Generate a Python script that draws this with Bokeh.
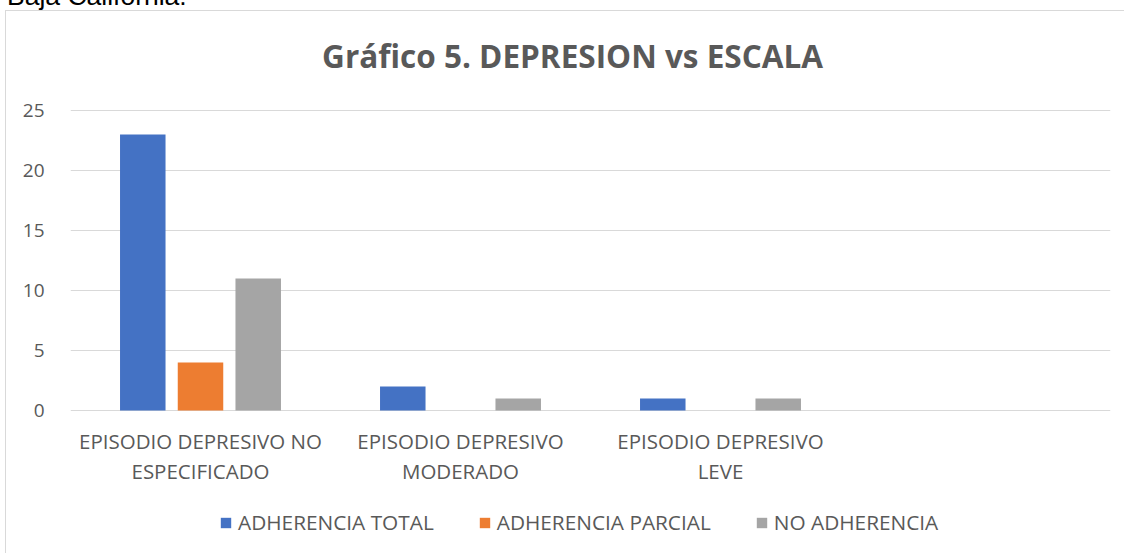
from bokeh.plotting import figure
from bokeh.layouts import column
from bokeh.models import (FactorRange, Range1d, FixedTicker, ColumnDataSource,
                          Legend, LegendItem, Label, Div)
from bokeh.core.properties import value
from bokeh.transform import dodge
from bokeh.embed import file_html
from bokeh.resources import INLINE

categories = ["EPISODIO DEPRESIVO NO\nESPECIFICADO", "EPISODIO DEPRESIVO\nMODERADO",
              "EPISODIO DEPRESIVO\nLEVE", " "]
series = ["ADHERENCIA TOTAL", "ADHERENCIA PARCIAL", "NO ADHERENCIA"]
adherencia_total = [23, 2, 1, 0]
adherencia_parcial = [4, 0, 0, 0]
no_adherencia = [11, 1, 1, 0]
y_ticks = [0, 5, 10, 15, 20, 25]
colors = ["#4472C4", "#ED7D31", "#A5A5A5"]
title_text = "Gráfico 5. DEPRESION vs ESCALA"
page_text = "Baja California."

FONT = "Open Sans"
TXT = "#595959"

src = ColumnDataSource(dict(cat=categories, total=adherencia_total,
                            parcial=adherencia_parcial, no=no_adherencia))

p = figure(x_range=FactorRange(*categories), y_range=Range1d(-12, 33.25),
           width=1119, height=543, output_backend="svg", toolbar_location=None,
           min_border_left=64, min_border_right=15, min_border_top=0,
           min_border_bottom=0)
p.styles = {"border-left": "1px solid #D9D9D9", "border-top": "1px solid #D9D9D9",
            "margin-left": "5px", "margin-top": "-10px"}
p.outline_line_color = None
p.background_fill_color = "white"
p.border_fill_color = "white"

r1 = p.vbar(x=dodge("cat", -0.222, range=p.x_range), top="total", width=0.175,
            source=src, color=colors[0], line_color=None)
r2 = p.vbar(x=dodge("cat", 0.0, range=p.x_range), top="parcial", width=0.175,
            source=src, color=colors[1], line_color=None)
r3 = p.vbar(x=dodge("cat", 0.222, range=p.x_range), top="no", width=0.175,
            source=src, color=colors[2], line_color=None)

# category labels under the zero line
p.text(x="cat", y=-1.35, text="cat", source=src, text_align="center",
       text_baseline="top", text_font=value(FONT), text_font_size="20.5px",
       text_color=TXT, text_line_height=1.08)

p.xaxis.visible = False
p.xgrid.grid_line_color = None
p.ygrid.grid_line_color = "#D9D9D9"
p.ygrid.ticker = FixedTicker(ticks=y_ticks)
p.yaxis.ticker = FixedTicker(ticks=y_ticks)

ax = p.yaxis[0]
ax.axis_line_color = None
ax.major_tick_line_color = None
ax.minor_tick_line_color = None
ax.major_label_text_font = FONT
ax.major_label_text_font_size = "19px"
ax.major_label_text_color = TXT
ax.major_label_standoff = 20

title = Label(x=1.931, y=29.6, text=title_text, text_align="center",
              text_baseline="middle", text_font=FONT, text_font_size="31.5px",
              text_font_style="bold", text_color=TXT)
p.add_layout(title)

legend = Legend(items=[LegendItem(label=series[0], renderers=[r1]),
                       LegendItem(label=series[1], renderers=[r2]),
                       LegendItem(label=series[2], renderers=[r3])],
                orientation="horizontal", location=(149, 18),
                glyph_width=13, glyph_height=13, label_standoff=6, spacing=44,
                padding=0, margin=0, label_height=20,
                label_text_font=FONT, label_text_font_size="20.8px",
                label_text_color=TXT, border_line_color=None,
                background_fill_alpha=0)
p.add_layout(legend, "center")

div = Div(text=page_text, width=400, height=10,
          styles={"font-family": "Liberation Sans, Arial, sans-serif",
                  "font-size": "26.5px", "line-height": "10px", "color": "#000000",
                  "margin-left": "7px", "overflow": "visible",
                  "transform": "translateY(-14px)"})

layout = column(div, p, spacing=0)

open("out.html", "w").write(file_html(layout, INLINE))
